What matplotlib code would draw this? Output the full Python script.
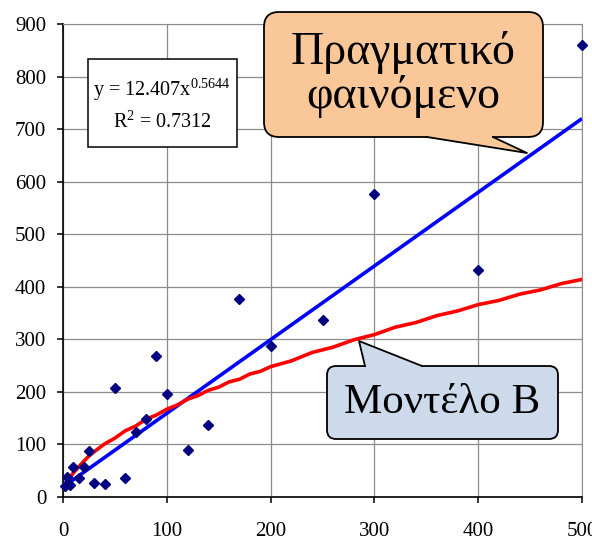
import numpy as np
import matplotlib
matplotlib.use("Agg")
import matplotlib.pyplot as plt
from matplotlib.patches import FancyBboxPatch, Polygon, Rectangle

plt.rcParams['font.family'] = ['Liberation Serif', 'DejaVu Serif']
plt.rcParams['mathtext.fontset'] = 'custom'
plt.rcParams['mathtext.rm'] = 'Liberation Serif'

# measured points
obs_x = [2, 4, 7, 10, 15, 20, 25, 30, 40, 50, 60, 70, 80, 90, 100,
         120, 140, 170, 200, 250, 300, 400, 500]
obs_y = [20, 38, 22, 57, 36, 58, 88, 27, 24, 208, 36, 124, 148, 268, 196,
         90, 137, 376, 287, 336, 577, 432, 860]

# linear trend (blue)
lin_x = [0, 500]
lin_y = [19, 720]

# model B curve (red)
model_x = [1, 3, 6, 10, 15, 20, 25, 30, 40, 50, 60, 70, 80, 90, 100, 110,
           120, 130, 140, 150, 160, 170, 180, 190, 200, 220, 240, 260, 280,
           300, 320, 340, 360, 380, 400, 420, 440, 460, 480, 500]
model_y = [15, 24, 35, 46, 57, 68, 78, 86, 101, 112, 126, 135, 148, 156, 167,
           175, 186, 193, 203, 209, 219, 224, 234, 239, 248, 259, 275, 285,
           299, 309, 323, 332, 345, 354, 366, 374, 386, 394, 406, 414]

x_ticks = [0, 100, 200, 300, 400, 500]
y_ticks = [0, 100, 200, 300, 400, 500, 600, 700, 800, 900]

eq_line1 = r"y = 12.407x$^{\rm 0.5644}$"
eq_line2 = r"R$^{\rm 2}$ = 0.7312"
callout_real = "Πραγματικό\nφαινόμενο"
callout_model = "Μοντέλο Β"

W, H = 592, 541
fig = plt.figure(figsize=(W / 100, H / 100), dpi=100)
ax = fig.add_axes([63 / W, 1 - 497 / H, (582 - 63) / W, (497 - 24) / H])

ax.plot(lin_x, lin_y, color='#0000ff', lw=2.6, zorder=3, solid_capstyle='butt')
ax.plot(model_x, model_y, color='#ff0000', lw=2.6, zorder=4)
ax.plot(obs_x, obs_y, 'D', color='#000080', ms=5.5, zorder=5, clip_on=False)

ax.set_xlim(0, 500)
ax.set_ylim(0, 900)
ax.set_xticks(x_ticks)
ax.set_yticks(y_ticks)
ax.grid(True, color='#8c8c8c', lw=0.9)
ax.set_axisbelow(True)
for s in ['top', 'right']:
    ax.spines[s].set_color('#8c8c8c')
for s in ['left', 'bottom']:
    ax.spines[s].set_color('black')
    ax.spines[s].set_linewidth(1.2)
ax.tick_params(axis='both', direction='out', length=4, width=1.1,
               labelsize=15, colors='black')
ax.tick_params(axis='y', pad=8)
ax.tick_params(axis='x', pad=14)


# helpers in pixel coords (from top-left), drawn in inches
def px(x, y):
    return (x / 100, (H - y) / 100)


tr = fig.dpi_scale_trans


def callout(x0, y0, x1, y1, r, tail, fc, text, size, lsp=1.05):
    box = FancyBboxPatch(px(x0, y1), (x1 - x0) / 100, (y1 - y0) / 100,
                         boxstyle="round,pad=0,rounding_size=%f" % (r / 100),
                         transform=tr, fc=fc, ec='black', lw=1.3, zorder=10,
                         clip_on=False)
    fig.patches.append(box)
    (bx1, by), (bx2, _), (tx, ty) = tail
    poly = Polygon([px(bx1, by), px(tx, ty), px(bx2, by)], closed=True,
                   transform=tr, fc=fc, ec='none', zorder=11)
    fig.patches.append(poly)
    # cover box border at the tail base
    inset = 2 if ty > by else -2
    cover = Polygon([px(bx1 + 1, by - inset), px(bx1 + 1, by + 0.5 * inset),
                     px(bx2 - 1, by + 0.5 * inset), px(bx2 - 1, by - inset)],
                    closed=True, transform=tr, fc=fc, ec='none', zorder=11)
    fig.patches.append(cover)
    fig.lines.append(plt.Line2D([bx1 / 100, tx / 100, bx2 / 100],
                                [(H - by) / 100, (H - ty) / 100, (H - by) / 100],
                                transform=tr, color='black', lw=1.3, zorder=12))
    fig.text((x0 + x1) / 2 / W, 1 - (y0 + y1) / 2 / H, text, ha='center',
             va='center', fontsize=size, linespacing=lsp, zorder=13)


callout(264, 12, 543, 137, 15, [(427, 137), (493, 137), (527, 153)],
        '#fac898', callout_real, 33)
callout(327, 366, 558, 439, 9, [(365, 366), (422, 366), (359, 341)],
        '#ccdaeb', callout_model, 31)

# equation box
fig.patches.append(Rectangle(px(88, 147), (237 - 88) / 100, (147 - 59) / 100,
                             transform=tr, fc='white', ec='black', lw=1.1,
                             zorder=10))
fig.text(162 / W, 1 - 90 / H, eq_line1, ha='center', va='center',
         fontsize=14.5, zorder=13)
fig.text(162 / W, 1 - 122 / H, eq_line2, ha='center', va='center',
         fontsize=14.5, zorder=13)

fig.savefig('out.png', dpi=100)
